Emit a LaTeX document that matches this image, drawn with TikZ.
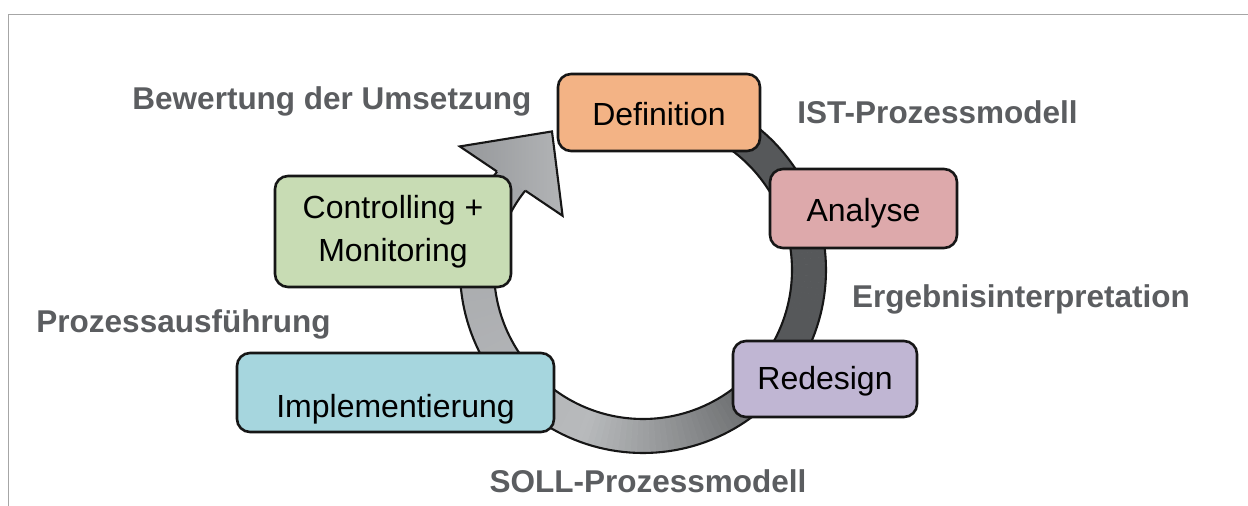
\documentclass[tikz,border=0pt]{standalone}
\usepackage{fontspec}
\setmainfont{Liberation Sans}
\usetikzlibrary{calc}
\definecolor{defcol}{HTML}{F3B385}
\definecolor{anacol}{HTML}{DDA9AB}
\definecolor{redcol}{HTML}{C0B6D3}
\definecolor{impcol}{HTML}{A6D6DE}
\definecolor{concol}{HTML}{C8DCB4}
\definecolor{ringdark}{HTML}{56585A}
\definecolor{ringlight}{HTML}{B8BABC}
\definecolor{ringend}{HTML}{A4A6A9}
\definecolor{headdark}{HTML}{95979A}
\definecolor{headlight}{HTML}{B2B4B6}
\definecolor{labgray}{HTML}{5B5D60}
\definecolor{framegray}{HTML}{A6A6A6}
\definecolor{edge}{HTML}{161616}
\begin{document}
\begin{tikzpicture}[x=1pt, y=-1pt,
  declare function={ringr(\t)=166-7*max(\t-540,0)/34;},
  box/.style={draw=edge, line width=2.6pt, rounded corners=13pt, inner sep=0pt,
    text=black, font=\fontsize{32}{43}\selectfont, align=center},
  lab/.style={anchor=base, inner sep=0pt, text=labgray,
    font=\fontsize{31.5}{38}\selectfont\bfseries},
  ringedge/.style={draw=edge, line width=2.1pt},
]
\useasboundingbox (0,0) rectangle (1248,506);
\fill[white] (0,0) rectangle (1248,506);

% frame lines along the top and left
\draw[framegray, line width=1.3pt] (8.5,506) -- (8.5,14.5) -- (1248,14.5);

% circular arrow: band with a gradient along the angle
\coordinate (C) at (643,270);
\foreach \a in {250,252,...,572}{
  \pgfmathsetmacro{\b}{\a+2}
  \pgfmathsetmacro{\m}{\a+1}
  \pgfmathsetmacro{\tA}{100*min(max((\m-395)/75,0),1)}
  \pgfmathsetmacro{\tB}{100*min(max((\m-470)/104,0),1)}
  \colorlet{segc}{ringlight!\tA!ringdark}
  \colorlet{segc}{ringend!\tB!segc}
  \pgfmathsetmacro{\oa}{ringr(\a)+17}
  \pgfmathsetmacro{\ia}{ringr(\a)-17}
  \pgfmathsetmacro{\ob}{ringr(\b)+17}
  \pgfmathsetmacro{\ib}{ringr(\b)-17}
  \filldraw[segc, line width=0.8pt, line join=round]
    ($(C)+(\a:\oa)$) -- ($(C)+(\b:\ob)$) -- ($(C)+(\b:\ib)$) -- ($(C)+(\a:\ia)$) -- cycle;
}
\draw[ringedge] plot[domain=250:574, samples=163, variable=\t]
  ({643+(ringr(\t)+17)*cos(\t)}, {270+(ringr(\t)+17)*sin(\t)});
\draw[ringedge] plot[domain=250:574, samples=163, variable=\t]
  ({643+(ringr(\t)-17)*cos(\t)}, {270+(ringr(\t)-17)*sin(\t)});

% arrow head
\coordinate (ho) at ($(C)+(574:176)$);
\coordinate (hob) at ($(C)+(574:221)$);
\coordinate (htip) at ($(C)+(596.7:165.8)$);
\coordinate (hib) at ($(C)+(574:97)$);
\coordinate (hi) at ($(C)+(574:142)$);
\shade[left color=headdark, right color=headlight]
  (ho) -- (hob) -- (htip) -- (hib) -- (hi) -- cycle;
\draw[ringedge, line join=miter] (ho) -- (hob) -- (htip) -- (hib) -- (hi);

% process steps
\node[box, fill=defcol, minimum width=202pt, minimum height=77pt,
  text height=25pt, text depth=0pt] (def) at (659,112.5) {Definition};
\node[box, fill=anacol, minimum width=187pt, minimum height=79pt,
  text height=25pt, text depth=0pt] (ana) at (863.5,208.5) {Analyse};
\node[box, fill=redcol, minimum width=184pt, minimum height=76pt,
  text height=20pt, text depth=0pt] (red) at (825,379) {Redesign};
\node[box, fill=impcol, minimum width=317pt, minimum height=79pt,
  text height=49pt, text depth=0pt] (imp) at (395.5,392.5) {Implementierung};
\node[box, fill=concol, minimum width=236pt, minimum height=111pt]
  (con) at (393,231.5) {Controlling +\\Monitoring};

% phase labels
\node[lab] (bew) at (332,109) {Bewertung der Umsetzung};
\node[lab] (ist) at (937.5,123) {IST-Prozessmodell};
\node[lab] (erg) at (1021,307) {Ergebnisinterpretation};
\node[lab] (pro) at (183.5,332) {Prozessausführung};
\node[lab] (soll) at (648,492) {SOLL-Prozessmodell};
\end{tikzpicture}
\end{document}
